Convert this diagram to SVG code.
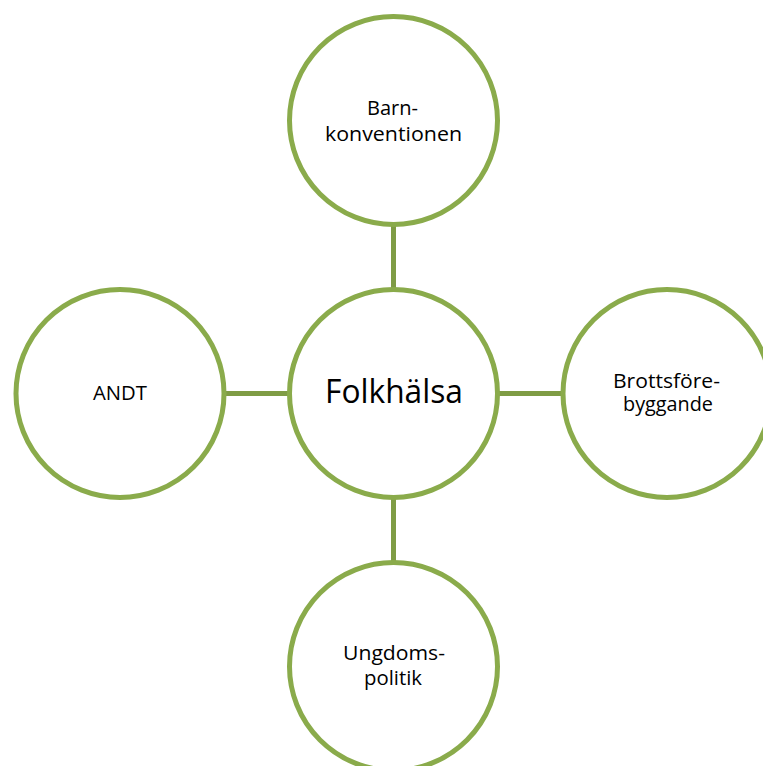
<svg xmlns="http://www.w3.org/2000/svg" width="763" height="766" viewBox="0 0 763 766">
<style>
.node{fill:#ffffff;stroke:#8AAB4B;stroke-width:5}
.conn{stroke:#7F9C45;stroke-width:5;fill:none}
.lbl{font-family:"Open Sans","Noto Sans","Liberation Sans",sans-serif;font-size:20.5px;fill:#000000;text-anchor:middle}
.big{font-family:"Open Sans","Noto Sans","Liberation Sans",sans-serif;font-size:32px;fill:#000000;text-anchor:middle}
</style>
<rect width="763" height="766" fill="#ffffff"/>
<g id="connectors">
<line class="conn" x1="393.5" y1="226" x2="393.5" y2="288"/>
<line class="conn" x1="226" y1="393.5" x2="288" y2="393.5"/>
<line class="conn" x1="499" y1="393.5" x2="562" y2="393.5"/>
<line class="conn" x1="393.5" y1="499" x2="393.5" y2="562"/>
</g>
<g id="center">
<circle class="node" cx="393.5" cy="393.5" r="104"/>
<text class="big" x="394" y="403" textLength="138" lengthAdjust="spacingAndGlyphs">Folkhälsa</text>
</g>
<g id="top">
<circle class="node" cx="393.5" cy="120.5" r="104"/>
<text class="lbl" x="392.5" y="115" textLength="51" lengthAdjust="spacingAndGlyphs">Barn-</text>
<text class="lbl" x="393.5" y="141" textLength="137" lengthAdjust="spacingAndGlyphs">konventionen</text>
</g>
<g id="left">
<circle class="node" cx="120" cy="393.5" r="104"/>
<text class="lbl" x="120" y="400" textLength="54" lengthAdjust="spacingAndGlyphs">ANDT</text>
</g>
<g id="right">
<circle class="node" cx="667" cy="393.5" r="104"/>
<text class="lbl" x="666.5" y="388" textLength="107" lengthAdjust="spacingAndGlyphs">Brottsföre-</text>
<text class="lbl" x="668" y="411" textLength="90" lengthAdjust="spacingAndGlyphs">byggande</text>
</g>
<g id="bottom">
<circle class="node" cx="393.5" cy="666.5" r="104"/>
<text class="lbl" x="394" y="660" textLength="102" lengthAdjust="spacingAndGlyphs">Ungdoms-</text>
<text class="lbl" x="393" y="685" textLength="58" lengthAdjust="spacingAndGlyphs">politik</text>
</g>
</svg>
